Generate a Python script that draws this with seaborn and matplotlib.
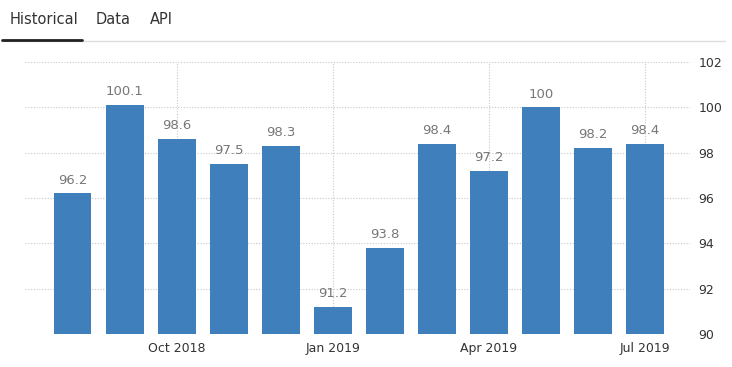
import pandas as pd
import seaborn as sns
import matplotlib.pyplot as plt

# dados do grafico
meses = ["Aug 2018", "Sep 2018", "Oct 2018", "Nov 2018", "Dec 2018", "Jan 2019",
         "Feb 2019", "Mar 2019", "Apr 2019", "May 2019", "Jun 2019", "Jul 2019"]
valores = [96.2, 100.1, 98.6, 97.5, 98.3, 91.2, 93.8, 98.4, 97.2, 100, 98.2, 98.4]
rotulos_valores = ["96.2", "100.1", "98.6", "97.5", "98.3", "91.2",
                   "93.8", "98.4", "97.2", "100", "98.2", "98.4"]
ticks_x = ["Oct 2018", "Jan 2019", "Apr 2019", "Jul 2019"]
ticks_y = [90, 92, 94, 96, 98, 100, 102]
abas = ["Historical", "Data", "API"]

tabela = pd.DataFrame({"mes": meses, "valor": valores})

sns.set_style("white")
plt.rcParams["font.family"] = ["DejaVu Sans"]

fig = plt.figure(figsize=(7.32, 3.67), dpi=100)
ax = fig.add_axes([0.034, 0.090, 0.909, 0.741])

sns.barplot(data=tabela, x="mes", y="valor", color="#3f7fbc", saturation=1,
            width=0.72, linewidth=0, ax=ax)

ax.set_ylim(90, 102)
ax.set_xlim(-0.92, 11.87)

# rotulos em cima das barras
for i, (v, r) in enumerate(zip(valores, rotulos_valores)):
    ax.text(i, v + 0.3, r, ha="center", va="bottom", fontsize=9.5, color="#777777")

# eixos
ax.yaxis.tick_right()
ax.set_yticks(ticks_y)
ax.set_yticklabels([str(t) for t in ticks_y], fontsize=9, color="#333333")
pos_x = [meses.index(t) for t in ticks_x]
ax.set_xticks(pos_x)
ax.set_xticklabels(ticks_x, fontsize=9, color="#333333")
ax.tick_params(axis="both", length=0, pad=6)
ax.set_xlabel("")
ax.set_ylabel("")

ax.grid(True, axis="both", linestyle=(0, (1, 1.5)), color="#c8c8c8", linewidth=0.8)
ax.set_axisbelow(True)
for s in ax.spines.values():
    s.set_visible(False)

# abas no topo
xs_abas = [10, 96, 150]
for x, a in zip(xs_abas, abas):
    fig.text(x / 732, 1 - 19 / 367, a, fontsize=10.5, color="#333333", va="center", ha="left")
fig.add_artist(plt.Line2D([2 / 732, 725 / 732], [1 - 40.5 / 367] * 2, color="#dddddd", linewidth=1))
fig.add_artist(plt.Line2D([2 / 732, 82 / 732], [1 - 40 / 367] * 2, color="#222222", linewidth=2))

plt.savefig("out.png", dpi=100)
